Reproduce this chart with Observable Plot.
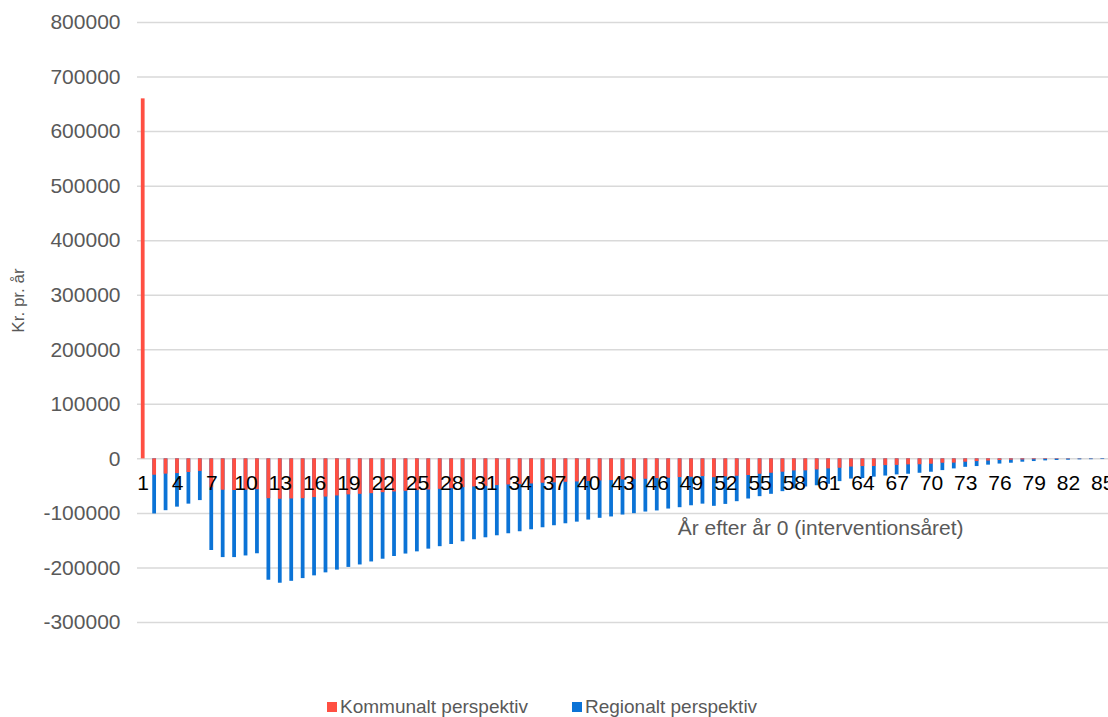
<!DOCTYPE html>
<html>
<head>
<meta charset="utf-8">
<script src="https://cdn.jsdelivr.net/npm/d3@7"></script>
<script src="https://cdn.jsdelivr.net/npm/@observablehq/plot@0.6"></script>
<style>
  html, body { margin: 0; padding: 0; background: #ffffff; }
  #wrap { position: relative; width: 1108px; height: 717px; overflow: hidden;
          font-family: "Liberation Sans", Arial, sans-serif; }
  #legend { position: absolute; left: 327px; top: 696px; display: flex; align-items: center;
            font-size: 19px; color: #595959; white-space: nowrap; }
  .item { display: flex; align-items: center; }
  .sw { width: 10px; height: 10px; margin-right: 3px; }
</style>
</head>
<body>
<div id="wrap">
  <div id="chart"></div>
  <div id="legend"></div>
</div>
<script>
// Years after year 0 (the intervention year)
const years = [
  1, 2, 3, 4, 5, 6, 7, 8, 9, 10, 11, 12, 13, 14, 15, 16, 17, 18, 19, 20,
  21, 22, 23, 24, 25, 26, 27, 28, 29, 30, 31, 32, 33, 34, 35, 36, 37, 38, 39, 40,
  41, 42, 43, 44, 45, 46, 47, 48, 49, 50, 51, 52, 53, 54, 55, 56, 57, 58, 59, 60,
  61, 62, 63, 64, 65, 66, 67, 68, 69, 70, 71, 72, 73, 74, 75, 76, 77, 78, 79, 80,
  81, 82, 83, 84, 85
];

// Kr. per year, municipal perspective
const kommunalt = [
  660000, -30000, -28000, -27000, -25000, -23000, -53000, -57500, -58000, -57500,
  -56500, -73000, -74000, -73500, -73000, -71000, -70000, -68000, -66000, -65000,
  -63800, -62000, -60700, -59500, -58200, -57000, -55800, -54500, -52700, -51500,
  -50300, -49000, -47800, -47000, -46000, -44700, -44000, -43000, -42300, -41500,
  -40500, -39800, -38600, -38000, -37400, -36200, -35600, -34300, -33700, -32500,
  -34500, -33000, -31900, -30500, -28200, -26400, -24500, -22100, -22000, -20200,
  -18400, -17200, -15000, -14100, -14000, -12300, -12000, -11000, -10800, -9800,
  -8000, -7800, -6100, -5000, -4000, -3000, -2500, -2000, -1500, -1000,
  -800, -600, -400, -300, -200
];

// Kr. per year, regional perspective
const regionalt = [
  0, -101000, -95000, -88500, -83000, -76500, -168000, -181000, -181000, -178000,
  -174000, -222500, -228000, -224500, -219500, -214500, -209000, -204000, -199000, -194500,
  -189000, -184000, -179000, -174500, -170500, -165500, -161000, -157000, -152000, -148300,
  -144700, -141000, -137300, -133600, -130000, -126300, -122600, -119000, -116000, -112200,
  -109000, -106500, -103000, -100500, -97500, -95500, -92000, -89500, -86000, -83000,
  -87000, -83500, -78500, -73600, -69300, -65000, -60100, -55000, -51500, -49300,
  -46600, -41700, -37000, -36000, -33500, -31500, -29400, -28200, -26400, -24500,
  -21500, -18400, -15500, -14100, -11500, -9500, -8000, -6100, -4900, -3700,
  -3000, -2500, -1800, -1500, -1200
];

const yTicks = [-300000, -200000, -100000, 0, 100000, 200000, 300000, 400000, 500000, 600000, 700000, 800000];
const xTickLabels = [1, 4, 7, 10, 13, 16, 19, 22, 25, 28, 31, 34, 37, 40, 43, 46, 49, 52, 55, 58, 61, 64, 67, 70, 73, 76, 79, 82, 85];

const seriesNames = ["Kommunalt perspektiv", "Regionalt perspektiv"];
const seriesColors = ["#ff4f42", "#0b73d6"];
const yLabel = "Kr. pr. år";
const xLabel = "År efter år 0 (interventionsåret)";

const rows = years.map((year, i) => ({year, kommunalt: kommunalt[i], regionalt: regionalt[i]}));

const font = "'Liberation Sans', Arial, sans-serif";

const chart = Plot.plot({
  width: 1108,
  height: 690,
  marginLeft: 137,
  marginRight: 0,
  marginTop: 22,
  marginBottom: 68,
  style: {fontFamily: font, fontSize: "21px", color: "#595959", background: "#ffffff", overflow: "visible"},
  x: {type: "band", domain: years, paddingInner: 0.67, paddingOuter: 0.335, axis: null},
  y: {domain: [-300000, 800000], axis: null},
  marks: [
    Plot.gridY(yTicks, {stroke: "#d9d9d9", strokeOpacity: 1, strokeWidth: 1.5}),
    // regional bars sit behind, municipal bars are drawn over them
    Plot.barY(rows, {x: "year", y: "regionalt", fill: seriesColors[1]}),
    Plot.barY(rows, {x: "year", y: "kommunalt", fill: seriesColors[0]}),
    Plot.axisY(yTicks, {tickSize: 0, tickPadding: 17, tickFormat: d => String(d), fill: "#595959", fontSize: 21, label: null}),
    // category labels run along the zero line
    Plot.text(xTickLabels, {x: d => d, y: () => 0, dy: 24, text: d => String(d), fill: "#000000", fontSize: 21, lineAnchor: "middle"}),
    Plot.text([xLabel], {x: () => 61, y: () => -126500, dx: -8, text: d => d, fill: "#595959", fontSize: 21, lineAnchor: "middle"}),
    Plot.text([yLabel], {frameAnchor: "left", dx: -119, dy: -22, rotate: -90, text: d => d, fill: "#595959", fontSize: 17, textAnchor: "middle", lineAnchor: "middle"})
  ]
});

document.getElementById("chart").appendChild(chart);

const legend = document.getElementById("legend");
seriesNames.forEach((name, i) => {
  const item = document.createElement("div");
  item.className = "item";
  if (i > 0) item.style.marginLeft = "44px";
  const sw = document.createElement("span");
  sw.className = "sw";
  sw.style.background = seriesColors[i];
  const label = document.createElement("span");
  label.textContent = name;
  item.appendChild(sw);
  item.appendChild(label);
  legend.appendChild(item);
});
</script>
</body>
</html>
